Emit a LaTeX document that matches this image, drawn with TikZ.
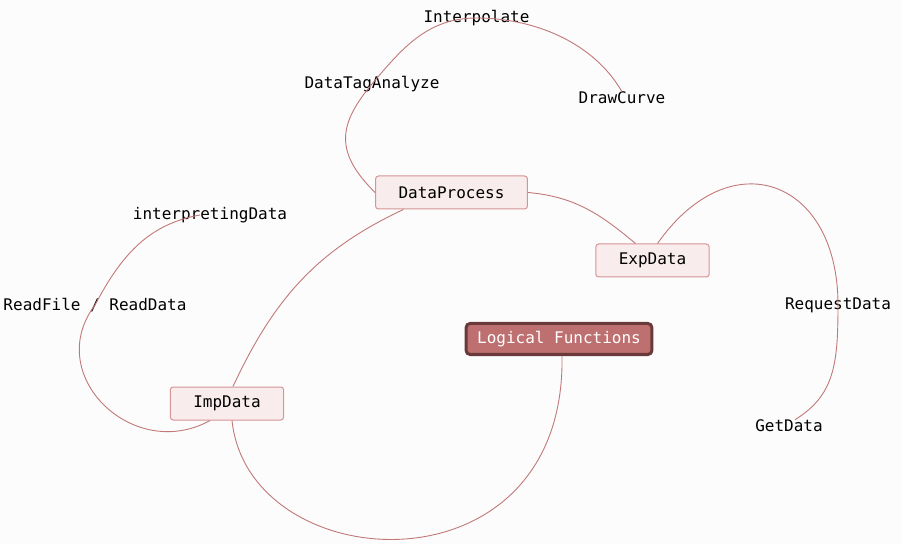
\documentclass[tikz,border=0pt]{standalone}
\usepackage{fontspec}
\setmonofont{DejaVu Sans Mono}
\usepackage{tikz}
\definecolor{paper}{HTML}{FCFCFC}
\definecolor{linkred}{HTML}{C27878}
\definecolor{topicfill}{HTML}{F8ECEC}
\definecolor{topicline}{HTML}{D69494}
\definecolor{rootfill}{HTML}{BE6F6F}
\definecolor{rootline}{HTML}{6A3A3A}
\newcommand\mapfont{\ttfamily\fontsize{16}{19}\selectfont}

\begin{document}
\begin{tikzpicture}[x=1pt, y=1pt, link/.style={draw=linkred, line width=0.9pt}, topic/.style={draw=topicline, fill=topicfill, line width=1pt, rounded corners=3pt, minimum height=33pt, inner xsep=23pt, font=\mapfont}, root/.style={draw=rootline, fill=rootfill, line width=3pt, rounded corners=4pt, minimum height=31pt, inner xsep=11pt, text=white, font=\mapfont}, leaf/.style={inner sep=0pt, font=\mapfont}]
	\fill[paper] (0,0) rectangle (902,544);
	\useasboundingbox (0,0) rectangle (902,544);

	\node[root] (lf) at (559,205) {Logical Functions};
	\node[topic] (dp) at (451.5,351.5) {DataProcess};
	\node[topic] (exp) at (652.5,283.5) {ExpData};
	\node[topic] (imp) at (227,140.5) {ImpData};
	\node[leaf] (dtag) at (372,460) {DataTagAnalyze};
	\node[leaf] (interp) at (476.5,526) {Interpolate};
	\node[leaf] (drawc) at (622,446) {DrawCurve};
	\node[leaf] (rf) at (95,239) {ReadFile / ReadData};
	\node[leaf] (idata) at (210,329) {interpretingData};
	\node[leaf] (req) at (838,239) {RequestData};
	\node[leaf] (get) at (789,118) {GetData};

	\path[link] ([xshift=3pt]lf.south) edge[out=271, in=276, out looseness=1.85, in looseness=1.22] ([xshift=5pt]imp.south)
	         ([xshift=6pt]imp.north) edge[out=65, in=205] ([xshift=-48pt]dp.south)
	         (dp.east) edge[out=-5, in=140] ([xshift=-17pt]exp.north)
	         (dp.west) edge[out=135, in=230, looseness=1.3] (dtag.center)
	         (dtag.center) edge[out=50, in=180] (interp.center)
	         (interp.center) edge[out=0, in=120, looseness=0.9] (drawc.north)
	         ([xshift=-17pt]imp.south) edge[out=209, in=233, looseness=1.38] (rf.center)
	         (rf.center) edge[out=62, in=190] ([xshift=-10pt]idata.center)
	         ([xshift=5pt]exp.north) edge[out=55, in=90, looseness=1.7] (req.center)
	         (req.center) edge[out=270, in=32, out looseness=1.24, in looseness=0.97] ([xshift=6pt]get.north);

\end{tikzpicture}
\end{document}
